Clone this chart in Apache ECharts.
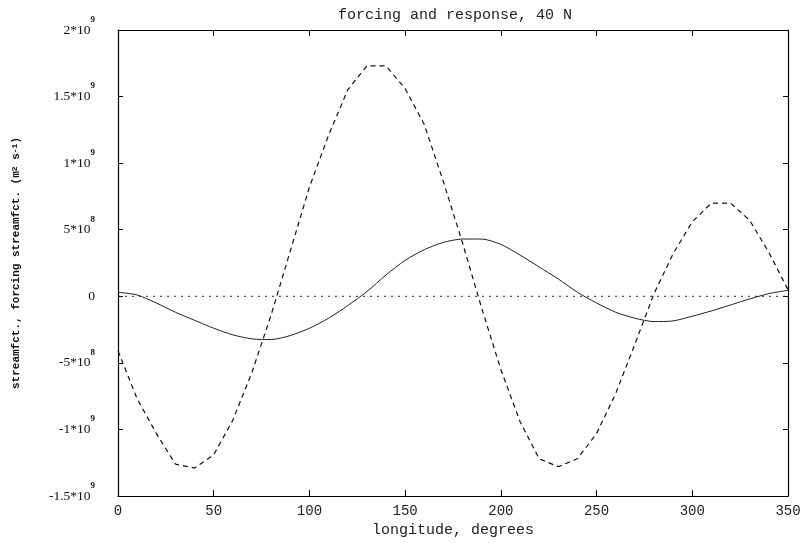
<!DOCTYPE html>
<html>
<head>
<meta charset="utf-8">
<script src="https://cdn.jsdelivr.net/npm/echarts@6/dist/echarts.min.js"></script>
<style>html,body{margin:0;padding:0;background:#fff;}#c{width:804px;height:543px;}</style>
</head>
<body>
<div id="c"></div>
<script>
// longitude (degrees)
const lon = [0,10,20,30,40,50,60,70,80,90,100,110,120,130,140,150,160,170,180,190,200,210,220,230,240,250,260,270,280,290,300,310,320,330,340,350];
// forcing streamfunction (dashed)
const forcing = [-4.1e8,-7.7e8,-1.03e9,-1.26e9,-1.29e9,-1.19e9,-9.3e8,-5.7e8,-1.4e8,3.4e8,8.2e8,1.21e9,1.55e9,1.73e9,1.73e9,1.56e9,1.29e9,8.6e8,4.0e8,-9e7,-5.5e8,-9.4e8,-1.22e9,-1.28e9,-1.22e9,-1.03e9,-7.3e8,-3.6e8,2e7,3.2e8,5.6e8,7.0e8,7.0e8,5.7e8,3.3e8,5e7];
// response streamfunction (solid)
const response = [3e7,1e7,-5e7,-1.2e8,-1.8e8,-2.4e8,-2.9e8,-3.2e8,-3.25e8,-2.95e8,-2.4e8,-1.65e8,-7e7,3.5e7,1.6e8,2.7e8,3.5e8,4.05e8,4.3e8,4.3e8,3.9e8,3.1e8,2.2e8,1.3e8,3e7,-5e7,-1.2e8,-1.65e8,-1.9e8,-1.85e8,-1.5e8,-1.1e8,-6.5e7,-2e7,2e7,4.5e7];
// zero reference line (dotted)
const zeroLine = [0,0,0,0,0,0,0,0,0,0,0,0,0,0,0,0,0,0,0,0,0,0,0,0,0,0,0,0,0,0,0,0,0,0,0,0];
// y tick labels: base text and exponent
const yTickBase = ['-1.5*10','-1*10','-5*10','0','5*10','1*10','1.5*10','2*10'];
const yTickExp  = ['9','9','8','','8','9','9','9'];
const yMin = -1.5e9, yMax = 2e9, yStep = 5e8;

const pair = arr => lon.map((x,i)=>[x,arr[i]]);
const chart = echarts.init(document.getElementById('c'));
const mono = 'Liberation Mono';
const serif = 'Liberation Serif';
const ylabFmt = v => {
  const i = Math.round((v - yMin)/yStep);
  const b = yTickBase[i], e = yTickExp[i];
  return e ? '{b|'+b+'}{e|'+e+'}' : '{b|'+b+'}';
};
const frameLine = {onZero:false,lineStyle:{color:'#000',width:1.2}};
chart.setOption({
  animation:false,
  backgroundColor:'#fff',
  title:{text:'forcing and response, 40 N',left:450,top:3,textAlign:'center',
    textStyle:{fontFamily:mono,fontSize:15,fontWeight:'normal',color:'#222'}},
  grid:{left:118,right:16,top:30,bottom:47},
  xAxis:[{type:'value',min:0,max:350,interval:50,position:'bottom',
    name:'longitude, degrees',nameLocation:'middle',nameGap:26,
    nameTextStyle:{fontFamily:mono,fontSize:15,color:'#222'},
    axisLine:frameLine,
    axisTick:{inside:true,length:6,lineStyle:{color:'#000'}},
    axisLabel:{fontFamily:mono,fontSize:14,color:'#222',margin:8},
    splitLine:{show:false}},
   {type:'value',min:0,max:350,interval:50,position:'top',
    axisLine:frameLine,
    axisTick:{inside:true,length:6,lineStyle:{color:'#000'}},
    axisLabel:{show:false},splitLine:{show:false}}],
  yAxis:[{type:'value',min:yMin,max:yMax,interval:yStep,position:'left',
    name:'streamfct., forcing streamfct. (m{s|2} s{s|-1})',nameLocation:'middle',nameGap:96,nameRotate:90,
    nameTextStyle:{fontFamily:mono,fontSize:11,fontWeight:'bold',color:'#111',
      rich:{s:{fontFamily:mono,fontSize:8,fontWeight:'bold',color:'#111',verticalAlign:'top',lineHeight:8}}},
    axisLine:frameLine,
    axisTick:{inside:true,length:5,lineStyle:{color:'#000'}},
    axisLabel:{margin:23,formatter:ylabFmt,
      rich:{b:{fontFamily:serif,fontSize:13.5,color:'#111',lineHeight:30},
            e:{fontFamily:serif,fontSize:9,fontWeight:'bold',color:'#111',verticalAlign:'top',lineHeight:12}}},
    splitLine:{show:false}},
   {type:'value',min:yMin,max:yMax,interval:yStep,position:'right',
    axisLine:frameLine,
    axisTick:{inside:true,length:5,lineStyle:{color:'#000'}},
    axisLabel:{show:false},splitLine:{show:false}}],
  series:[
    {type:'line',data:pair(zeroLine),showSymbol:false,
      lineStyle:{color:'#222',width:1,type:[2,5]}},
    {type:'line',data:pair(response),showSymbol:false,smooth:0.25,
      lineStyle:{color:'#222',width:1}},
    {type:'line',data:pair(forcing),showSymbol:false,
      lineStyle:{color:'#111',width:1.2,type:[5,4]}}
  ]
});
</script>
</body>
</html>
